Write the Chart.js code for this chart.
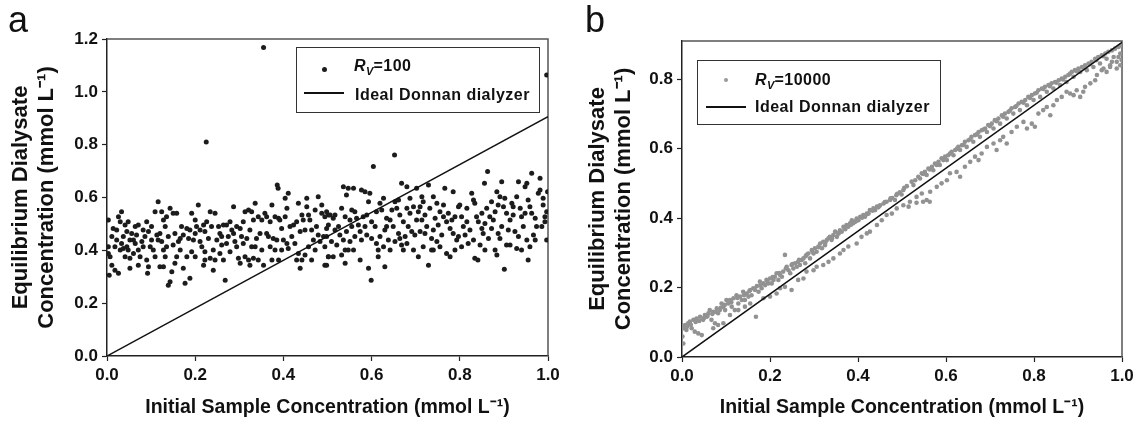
<!DOCTYPE html>
<html>
<head>
<meta charset="utf-8">
<script src="https://cdn.jsdelivr.net/npm/chart.js@4"></script>
<style>
  body { margin: 0; background: #fff; }
  #wrap { position: relative; width: 1134px; height: 421px; overflow: hidden; background: #fff;
          font-family: Arial, "Liberation Sans", Helvetica, sans-serif; }
  canvas { position: absolute; top: 0; }
  .tag { position: absolute; font-size: 36px; line-height: 36px; color: #111; }
  .leg { position: absolute; border: 1.5px solid #333; box-sizing: border-box; }
  .txt { position: absolute; font-weight: bold; font-size: 16px; line-height: 16px; letter-spacing: 0.5px;
         white-space: nowrap; color: #111; }
  .txt sub { font-size: 11px; line-height: 0; vertical-align: -4px; letter-spacing: 0; }
  .dot { position: absolute; border-radius: 50%; }
  .ln { position: absolute; height: 1.5px; background: #111; }
</style>
</head>
<body>
<div id="wrap">
  <canvas id="chartA" width="580" height="421" style="left:0"></canvas>
  <canvas id="chartB" width="574" height="421" style="left:560px"></canvas>

  <div class="tag" style="left:8px;top:1.5px">a</div>
  <div class="tag" style="left:585px;top:1.5px">b</div>

  <div class="leg" style="left:296px;top:47px;width:244px;height:66px"></div>
  <div class="dot" style="left:321.5px;top:66.5px;width:5px;height:5px;background:#1c1c1c"></div>
  <div class="ln" style="left:304px;top:92.25px;width:40px"></div>
  <div class="txt" style="left:354px;top:58px"><i>R</i><sub><i>V</i></sub>=100</div>
  <div class="txt" style="left:355px;top:86.5px">Ideal Donnan dialyzer</div>

  <div class="leg" style="left:697px;top:60px;width:244px;height:65px"></div>
  <div class="dot" style="left:723.5px;top:77.5px;width:4.5px;height:4.5px;background:#999"></div>
  <div class="ln" style="left:706px;top:106.25px;width:40px"></div>
  <div class="txt" style="left:755px;top:71.5px"><i>R</i><sub><i>V</i></sub>=10000</div>
  <div class="txt" style="left:755px;top:99px">Ideal Donnan dialyzer</div>
</div>

<script>
// panel a: R_V = 100
const aX = [
  0.003,0.026,0.033,0.030,0.011,0.022,0.018,0.007,0.003,0.011,0.005,0.026,0.018,0.030,0.022,0.014,0.003,
  0.041,0.048,0.045,0.037,0.052,0.033,0.048,0.041,0.052,0.052,0.045,0.056,0.037,
  0.064,0.071,0.067,0.060,0.079,0.071,0.064,0.075,0.082,0.071,0.086,0.082,0.060,
  0.090,0.116,0.109,0.094,0.101,0.098,0.090,0.094,0.092,0.109,0.113,0.105,0.101,
  0.124,0.128,0.135,0.143,0.132,0.120,0.139,0.124,0.135,0.128,0.120,0.128,0.147,0.143,0.139,0.132,0.116,
  0.150,0.158,0.154,0.169,0.162,0.150,0.166,0.154,0.173,0.177,0.158,0.173,0.166,
  0.181,0.188,0.192,0.200,0.207,0.185,0.196,0.192,0.200,0.181,0.188,0.203,0.200,
  0.211,0.219,0.222,0.234,0.226,0.230,0.215,0.222,0.237,0.234,0.219,0.222,0.211,
  0.245,0.253,0.256,0.249,0.264,0.260,0.241,0.245,0.241,0.256,0.264,0.260,
  0.271,0.279,0.287,0.283,0.275,0.290,0.294,0.268,0.279,0.287,0.271,0.298,0.294,
  0.302,0.309,0.313,0.321,0.324,0.305,0.317,0.328,0.313,0.321,0.324,0.302,0.309,
  0.328,0.336,0.332,0.343,0.351,0.347,0.339,0.336,0.351,0.332,0.343,0.355,0.358,
  0.362,0.374,0.370,0.381,0.389,0.366,0.377,0.362,0.385,0.370,0.381,0.374,0.389,0.386,0.388,
  0.392,0.396,0.404,0.408,0.415,0.400,0.408,0.411,0.396,0.419,0.404,0.411,
  0.423,0.430,0.434,0.442,0.445,0.438,0.449,0.426,0.434,0.442,0.430,0.438,0.449,
  0.453,0.457,0.460,0.464,0.472,0.475,0.479,0.468,0.457,0.472,0.464,0.479,0.453,
  0.487,0.494,0.502,0.498,0.491,0.483,0.494,0.502,0.494,0.487,
  0.355,0.225,0.997,
  0.498,0.506,0.513,0.502,0.517,0.498,0.509,0.521,0.502,0.513,0.498,0.525,0.517,
  0.536,0.543,0.547,0.532,0.540,0.551,0.528,0.543,0.536,0.551,0.540,0.532,0.547,0.540,0.555,0.555,
  0.559,0.566,0.570,0.562,0.574,0.577,0.559,0.574,0.581,0.577,0.585,0.562,
  0.589,0.593,0.596,0.604,0.600,0.608,0.589,0.600,0.611,0.615,0.593,0.599,0.611,0.615,0.585,
  0.619,0.627,0.623,0.634,0.642,0.630,0.619,0.638,0.627,0.642,0.630,0.646,0.634,
  0.652,0.653,0.661,0.657,0.668,0.664,0.672,0.649,0.661,0.676,0.653,0.668,0.672,0.680,0.664,
  0.680,0.687,0.695,0.702,0.683,0.691,0.698,0.680,0.695,0.706,0.702,0.687,0.706,
  0.710,0.717,0.721,0.729,0.732,0.714,0.725,0.710,0.721,0.736,0.717,0.729,0.736,0.714,
  0.740,0.748,0.755,0.744,0.751,0.763,0.740,0.759,0.748,0.755,0.740,0.766,0.763,
  0.770,0.774,0.778,0.785,0.789,0.785,0.793,0.770,0.778,0.789,0.797,0.782,
  0.800,0.804,0.808,0.816,0.823,0.812,0.804,0.819,0.827,0.831,0.797,0.816,
  0.834,0.838,0.842,0.850,0.853,0.831,0.846,0.834,0.841,0.857,0.856,0.863,0.850,
  0.861,0.868,0.876,0.884,0.872,0.887,0.865,0.880,0.884,0.857,0.880,0.872,
  0.895,0.891,0.902,0.899,0.906,0.914,0.895,0.910,0.891,0.906,0.914,0.901,0.887,0.918,
  0.921,0.929,0.933,0.937,0.940,0.948,0.925,0.944,0.933,0.940,0.929,0.948,0.921,
  0.952,0.955,0.959,0.963,0.971,0.974,0.967,0.952,0.959,0.955,0.971,0.963,0.978,
  0.982,0.989,0.993,0.997,0.986,0.982,0.997,0.989,0.999,0.993
];
const aY = [
  0.515,0.527,0.546,0.508,0.452,0.477,0.414,0.376,0.388,0.344,0.306,0.313,0.325,0.401,0.439,0.483,0.414,
  0.496,0.508,0.471,0.452,0.439,0.426,0.401,0.376,0.370,0.332,0.414,0.464,0.407,
  0.490,0.496,0.458,0.439,0.433,0.401,0.426,0.376,0.414,0.344,0.452,0.477,0.388,
  0.508,0.584,0.546,0.471,0.439,0.414,0.363,0.338,0.313,0.376,0.458,0.401,0.490,
  0.546,0.515,0.527,0.559,0.490,0.464,0.452,0.433,0.414,0.401,0.338,0.338,0.319,0.281,0.268,0.376,0.439,
  0.540,0.540,0.464,0.490,0.433,0.420,0.401,0.351,0.332,0.275,0.376,0.458,0.445,
  0.483,0.477,0.540,0.515,0.572,0.445,0.439,0.395,0.376,0.376,0.294,0.490,0.464,
  0.477,0.496,0.471,0.546,0.508,0.445,0.414,0.395,0.490,0.370,0.344,0.363,0.433,
  0.540,0.490,0.464,0.439,0.496,0.420,0.401,0.363,0.325,0.388,0.363,0.452,
  0.496,0.508,0.565,0.477,0.452,0.433,0.490,0.287,0.395,0.464,0.426,0.370,0.414,
  0.483,0.508,0.546,0.553,0.477,0.452,0.445,0.414,0.376,0.363,0.344,0.351,0.426,
  0.546,0.578,0.515,0.527,0.515,0.464,0.445,0.414,0.401,0.370,0.363,0.344,0.540,
  0.527,0.572,0.508,0.527,0.521,0.452,0.445,0.464,0.439,0.414,0.401,0.363,0.363,0.647,0.635,
  0.515,0.483,0.527,0.559,0.490,0.439,0.426,0.407,0.401,0.452,0.597,0.616,
  0.496,0.508,0.578,0.534,0.515,0.471,0.477,0.426,0.388,0.363,0.363,0.332,0.382,
  0.565,0.534,0.515,0.477,0.553,0.490,0.603,0.439,0.414,0.401,0.363,0.458,0.597,
  0.540,0.527,0.534,0.483,0.452,0.433,0.414,0.376,0.344,0.572,
  1.168,0.810,1.064,
  0.546,0.534,0.521,0.496,0.477,0.452,0.433,0.420,0.376,0.376,0.344,0.490,0.534,
  0.641,0.609,0.635,0.559,0.527,0.515,0.458,0.471,0.439,0.433,0.401,0.382,0.401,0.351,0.553,0.490,
  0.635,0.521,0.496,0.452,0.471,0.439,0.401,0.363,0.527,0.628,0.490,0.546,
  0.534,0.584,0.616,0.717,0.508,0.490,0.458,0.445,0.426,0.401,0.332,0.287,0.546,0.376,0.622,
  0.578,0.597,0.553,0.521,0.515,0.477,0.452,0.439,0.414,0.401,0.338,0.553,0.490,
  0.761,0.584,0.591,0.559,0.654,0.534,0.508,0.490,0.464,0.452,0.433,0.420,0.401,0.641,0.445,
  0.559,0.540,0.565,0.515,0.490,0.471,0.458,0.426,0.401,0.376,0.635,0.597,0.546,
  0.565,0.584,0.534,0.647,0.559,0.515,0.490,0.471,0.464,0.445,0.414,0.344,0.401,0.603,
  0.603,0.578,0.546,0.521,0.496,0.527,0.477,0.458,0.433,0.414,0.401,0.635,0.572,
  0.508,0.540,0.483,0.622,0.527,0.464,0.439,0.388,0.376,0.401,0.565,0.515,
  0.572,0.527,0.490,0.508,0.477,0.458,0.414,0.426,0.616,0.591,0.452,0.559,
  0.578,0.527,0.508,0.483,0.464,0.439,0.420,0.370,0.363,0.401,0.654,0.698,0.540,
  0.559,0.527,0.515,0.622,0.483,0.464,0.445,0.401,0.382,0.502,0.546,0.584,
  0.660,0.603,0.597,0.565,0.540,0.515,0.490,0.477,0.445,0.420,0.420,0.328,0.572,0.578,
  0.534,0.603,0.660,0.559,0.527,0.540,0.471,0.490,0.452,0.401,0.407,0.641,0.565,
  0.654,0.591,0.565,0.540,0.521,0.490,0.458,0.439,0.414,0.363,0.439,0.692,0.616,
  0.628,0.572,0.527,0.546,0.490,0.673,0.439,0.597,0.622,0.508
];

// panel b: R_V = 10000
const bX = [
  0.001,0.003,0.004,0.007,0.014,0.018,0.026,0.033,0.041,0.010,0.022,0.029,0.037,0.045,0.048,0.056,0.060,0.052,0.063,0.071,0.079,0.082,0.067,0.075,
  0.086,0.094,0.090,0.101,0.109,0.105,0.098,0.113,0.117,0.124,0.132,0.128,0.120,0.136,0.139,0.147,0.155,0.151,0.143,0.162,0.158,0.170,0.166,0.168,
  0.174,0.181,0.185,0.177,0.189,0.192,0.200,0.196,0.204,0.211,0.215,0.208,0.219,0.223,0.230,0.227,0.234,0.238,0.242,0.246,0.249,0.253,0.257,0.261,
  0.264,0.268,0.272,0.276,0.283,0.280,0.287,0.291,0.295,0.299,0.302,0.306,0.310,0.314,0.318,0.321,0.329,0.325,0.333,0.336,0.340,0.344,0.348,0.352,
  0.359,0.355,0.367,0.363,0.374,0.370,0.382,0.378,0.386,0.389,0.397,0.393,0.405,0.401,0.412,0.420,0.416,0.427,0.424,0.435,0.443,0.439,0.450,0.446,0.458,0.465,0.473,
  0.478,0.487,0.495,0.503,0.511,0.484,0.499,
  0.012,0.020,0.031,0.039,0.050,0.058,0.069,0.077,0.088,0.097,
  0.112,0.126,0.141,0.153,0.178,0.194,0.206,0.221,0.236,0.251,0.266,0.281,0.296,0.311,
  0.326,0.341,0.356,0.371,0.384,0.396,0.409,0.421,0.433,0.448,0.461,0.474,0.489,0.505,
  0.071,0.082,0.094,0.109,0.128,0.143,0.155,0.185,0.200,0.215,0.223,0.234,0.249,0.264,0.276,0.283,0.299,0.306,0.321,0.333,
  0.344,0.359,0.367,0.378,0.397,0.408,0.420,0.427,0.443,0.454,0.465,0.477,0.488,0.503,0.515,0.518,
  0.522,0.530,0.537,0.545,0.552,0.560,0.568,0.575,0.583,0.590,0.598,0.605,0.613,0.621,0.628,0.636,0.643,0.651,0.658,0.666,
  0.674,0.681,0.689,0.696,0.704,0.711,0.719,0.727,0.734,0.742,0.749,
  0.757,0.765,0.772,0.780,0.787,0.795,0.802,0.810,0.818,0.825,0.833,0.840,0.848,0.856,0.863,0.871,0.878,0.886,0.893,0.901,
  0.909,0.916,0.924,0.931,0.939,0.946,0.954,0.962,0.969,0.977,0.984,0.992,0.997,
  0.526,0.541,0.556,0.571,0.586,0.602,0.617,0.632,0.647,0.662,0.677,0.693,0.708,0.723,0.738,0.753,0.768,0.784,0.799,0.814,
  0.829,0.844,0.859,0.874,0.890,0.905,0.920,0.935,0.950,0.965,0.981,0.996,0.988,0.973,0.958,
  0.548,0.563,0.579,0.594,0.609,0.625,0.640,0.655,0.670,0.685,0.700,0.715,0.730,0.745,
  0.760,0.776,0.791,0.806,0.821,0.836,0.851,0.866,0.882,0.897,0.912,0.927,0.942,0.957,
  0.533,0.545,0.556,0.564,0.579,0.590,0.602,0.609,0.624,0.632,0.643,0.655,0.666,0.674,0.681,0.693,0.708,0.715,0.723,0.730,
  0.738,0.749,0.761,0.776,0.784,
  0.795,0.802,0.810,0.821,0.829,0.837,0.844,0.852,0.863,0.874,0.882,0.890,0.897,0.905,0.912,0.916,0.928,0.939,0.943,0.954,
  0.965,0.973,0.977,0.988,0.996,0.999,0.992,0.533,0.548,0.563
];
const bY = [
  0.059,0.039,0.083,0.092,0.097,0.102,0.107,0.111,0.116,0.078,0.083,0.073,0.068,0.063,0.107,0.116,0.126,0.121,0.135,0.130,0.140,0.126,0.107,0.097,
  0.135,0.145,0.154,0.164,0.164,0.154,0.135,0.145,0.169,0.178,0.174,0.154,0.135,0.164,0.188,0.183,0.193,0.174,0.164,0.198,0.178,0.204,0.193,0.116,
  0.188,0.198,0.212,0.217,0.207,0.222,0.226,0.212,0.212,0.231,0.241,0.222,0.222,0.236,0.246,0.231,0.294,0.260,0.250,0.241,0.265,0.255,0.270,0.260,
  0.274,0.265,0.279,0.284,0.294,0.270,0.298,0.284,0.308,0.298,0.313,0.303,0.318,0.327,0.313,0.332,0.337,0.322,0.342,0.346,0.337,0.351,0.361,0.346,
  0.365,0.356,0.375,0.361,0.380,0.370,0.385,0.375,0.394,0.385,0.399,0.389,0.404,0.394,0.409,0.413,0.404,0.423,0.413,0.428,0.433,0.423,0.437,0.431,0.442,0.447,0.452,
  0.458,0.466,0.474,0.481,0.492,0.452,0.468,
  0.088,0.093,0.101,0.104,0.112,0.118,0.124,0.130,0.142,0.150,
  0.158,0.170,0.178,0.190,0.206,0.219,0.230,0.242,0.255,0.268,0.280,0.290,0.304,0.316,
  0.330,0.342,0.356,0.368,0.381,0.392,0.401,0.412,0.421,0.434,0.446,0.457,0.470,0.487,
  0.083,0.092,0.097,0.121,0.135,0.145,0.154,0.169,0.174,0.183,0.198,0.202,0.193,0.222,0.226,0.246,0.250,0.260,0.265,0.274,
  0.284,0.298,0.308,0.318,0.327,0.346,0.356,0.361,0.380,0.394,0.409,0.413,0.428,0.437,0.433,0.447,
  0.505,0.509,0.519,0.529,0.533,0.543,0.548,0.557,0.562,0.572,0.577,0.581,0.591,0.596,0.605,0.610,0.620,0.624,0.634,0.639,
  0.648,0.653,0.658,0.668,0.672,0.682,0.687,0.696,0.701,0.706,0.716,
  0.720,0.730,0.735,0.740,0.749,0.754,0.759,0.768,0.773,0.778,0.783,0.788,0.792,0.797,0.802,0.807,0.812,0.821,0.826,0.831,
  0.835,0.840,0.845,0.850,0.859,0.864,0.869,0.874,0.879,0.883,0.888,0.893,0.898,
  0.495,0.514,0.524,0.538,0.553,0.567,0.581,0.596,0.605,0.620,0.634,0.648,0.658,0.672,0.687,0.701,0.711,0.725,0.740,0.749,
  0.764,0.773,0.783,0.792,0.807,0.821,0.826,0.835,0.845,0.859,0.864,0.874,0.850,0.835,0.831,
  0.527,0.540,0.553,0.567,0.586,0.600,0.611,0.627,0.641,0.655,0.665,0.679,0.692,0.709,
  0.723,0.732,0.746,0.761,0.772,0.780,0.790,0.799,0.816,0.823,0.833,0.843,0.855,0.866,
  0.461,0.471,0.452,0.476,0.490,0.500,0.509,0.529,0.533,0.519,0.548,0.562,0.577,0.567,0.586,0.605,0.615,0.596,0.624,0.634,
  0.615,0.648,0.663,0.677,0.658,
  0.672,0.663,0.701,0.711,0.720,0.696,0.725,0.740,0.749,0.764,0.759,0.754,0.768,0.749,0.764,0.778,0.788,0.797,0.812,0.826,
  0.821,0.840,0.850,0.831,0.840,0.855,0.864,0.444,0.447,0.447
];

// ideal Donnan dialyzer line
const idealX = [0, 1];
const idealY = [0, 0.906];

const xTicks = [0, 0.2, 0.4, 0.6, 0.8, 1.0];
const yTicksA = [0, 0.2, 0.4, 0.6, 0.8, 1.0, 1.2];
const yTicksB = [0, 0.2, 0.4, 0.6, 0.8];

const FONT = 'Arial, "Liberation Sans", Helvetica, sans-serif';
const xTitle = 'Initial Sample Concentration (mmol L\u207B\u00B9)';
const yTitle = ['Equilibrium Dialysate', 'Concentration (mmol L\u207B\u00B9)'];

// top + right frame of the plot box
const frameLines = {
  id: 'frameLines',
  beforeDatasetsDraw(chart) {
    const { ctx, chartArea: a } = chart;
    ctx.save();
    ctx.strokeStyle = '#555';
    ctx.lineWidth = 1.5;
    ctx.beginPath();
    ctx.moveTo(a.left, a.top);
    ctx.lineTo(a.right, a.top);
    ctx.lineTo(a.right, a.bottom);
    ctx.stroke();
    ctx.restore();
  }
};

function toPoints(xs, ys) {
  return xs.map((x, i) => ({ x: x, y: ys[i] }));
}

function axisCommon() {
  return {
    type: 'linear',
    grid: { display: true, drawOnChartArea: false, drawTicks: true, tickLength: 5, tickColor: '#222', tickWidth: 1.2 },
    border: { display: true, color: '#222', width: 1.5 },
    ticks: {
      color: '#111', padding: 4, autoSkip: false, maxRotation: 0,
      font: { family: FONT, size: 17, weight: 'bold' },
      callback: v => Number(v).toFixed(1)
    }
  };
}

function makeChart(id, xs, ys, color, radius, yMax, yTicks, opt) {
  const xAxis = axisCommon();
  xAxis.min = 0; xAxis.max = 1;
  xAxis.afterBuildTicks = s => { s.ticks = xTicks.map(v => ({ value: v })); };
  xAxis.afterFit = s => { s.height = opt.xHeight; s.paddingLeft = 0; s.paddingRight = 0; };
  xAxis.title = { display: true, text: xTitle, color: '#111',
    font: { family: FONT, size: 19.5, weight: 'bold', lineHeight: 1.2 }, padding: { top: 0, bottom: 2 } };

  const yAxis = axisCommon();
  yAxis.min = 0; yAxis.max = yMax;
  yAxis.afterBuildTicks = s => { s.ticks = yTicks.map(v => ({ value: v })); };
  yAxis.afterFit = s => { s.width = opt.yWidth; s.paddingTop = 0; s.paddingBottom = 0; };
  yAxis.title = { display: true, text: yTitle, color: '#111',
    font: { family: FONT, size: 22, weight: 'bold', lineHeight: 1.18 }, padding: { top: opt.titlePad, bottom: 0 } };

  return new Chart(document.getElementById(id), {
    type: 'scatter',
    data: {
      datasets: [
        {
          label: 'Ideal Donnan dialyzer',
          data: toPoints(idealX, idealY),
          showLine: true, pointRadius: 0, borderColor: '#111', borderWidth: 1.5, fill: false
        },
        {
          label: 'points',
          data: toPoints(xs, ys),
          pointRadius: radius, pointBorderWidth: 0,
          backgroundColor: color, borderColor: color
        }
      ]
    },
    options: {
      responsive: false,
      animation: false,
      devicePixelRatio: 1,
      events: [],
      layout: { padding: opt.pad },
      plugins: { legend: { display: false }, tooltip: { enabled: false } },
      scales: { x: xAxis, y: yAxis }
    },
    plugins: [frameLines]
  });
}

makeChart('chartA', aX, aY, '#1c1c1c', 2.5, 1.2, yTicksA,
  { xHeight: 65, yWidth: 107, titlePad: 8, pad: { left: 0, top: 39, right: 32, bottom: 0 } });
makeChart('chartB', bX, bY, '#929292', 2.3, 0.91, yTicksB,
  { xHeight: 64, yWidth: 122, titlePad: 25, pad: { left: 0, top: 41, right: 12, bottom: 0 } });
</script>
</body>
</html>
